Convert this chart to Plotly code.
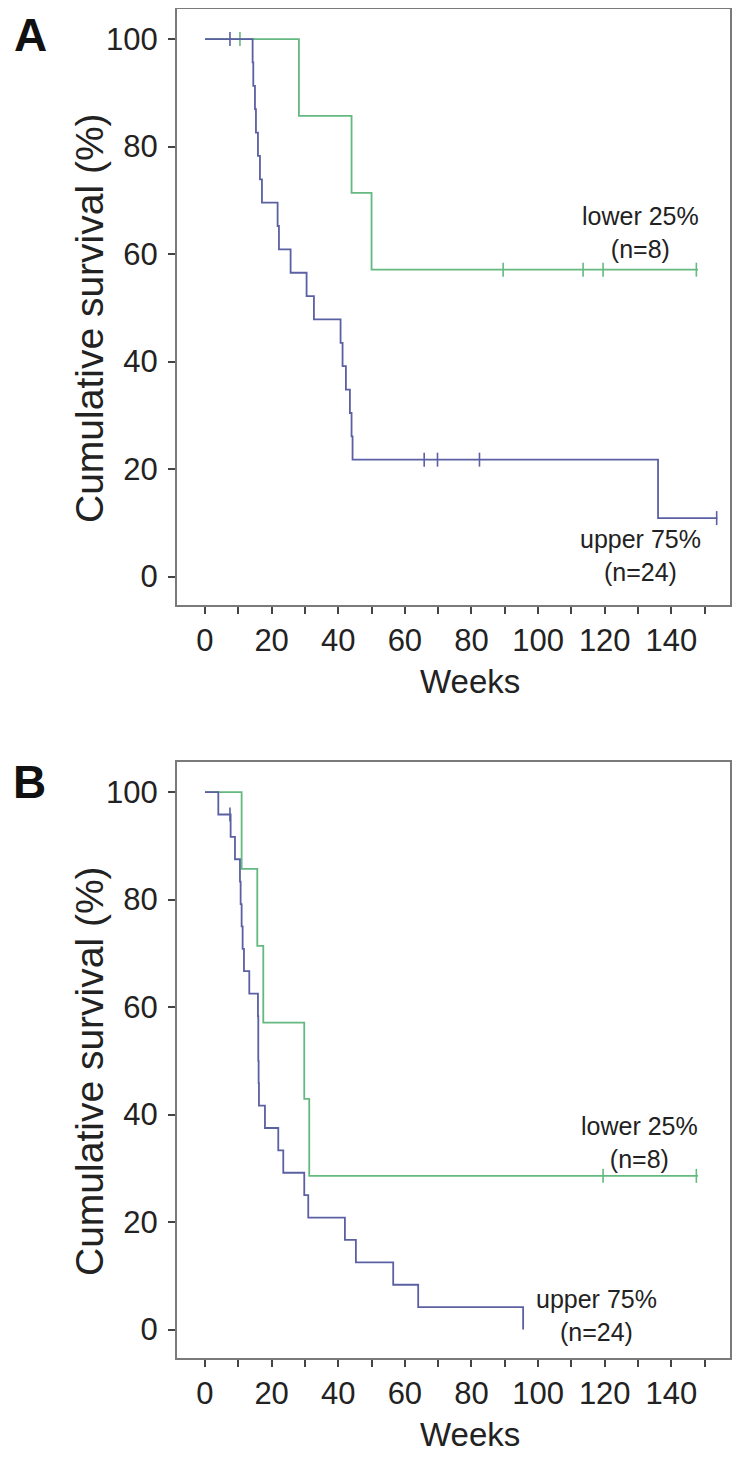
import plotly.graph_objects as go

# ---------------- data ----------------
# Panel A
a_low_times = [28.2, 44.0, 50.0]
a_low_surv = [85.7, 71.4, 57.1]
a_low_end = 148.0
a_low_censor = [10.5, 89.5, 113.5, 119.5, 147.5]

a_up_times = [14.3, 14.5, 15.0, 15.3, 15.9, 16.5, 17.1, 21.8, 22.2, 25.7, 30.5,
              32.7, 40.7, 41.3, 42.3, 43.5, 44.0, 44.3, 136.0]
a_up_surv = [95.65, 91.30, 86.96, 82.61, 78.26, 73.91, 69.57, 65.22, 60.87, 56.52,
             52.17, 47.83, 43.48, 39.13, 34.78, 30.43, 26.09, 21.74, 10.87]
a_up_end = 153.8
a_up_censor = [7.5, 65.8, 69.8, 82.4, 153.6]

# Panel B
b_low_times = [11.0, 15.7, 17.5, 29.8, 31.3]
b_low_surv = [85.7, 71.4, 57.1, 42.9, 28.6]
b_low_end = 148.0
b_low_censor = [119.5, 147.5]

b_up_times = [4.0, 7.7, 9.0, 10.5, 10.7, 11.0, 11.3, 11.7, 13.3, 15.9, 16.0, 16.0,
              16.1, 16.2, 18.0, 22.0, 23.5, 29.8, 31.0, 42.0, 45.3, 56.5, 64.0, 95.5]
b_up_surv = [95.83, 91.67, 87.5, 83.33, 79.17, 75.0, 70.83, 66.67, 62.5, 58.33, 54.17,
             50.0, 45.83, 41.67, 37.5, 33.33, 29.17, 25.0, 20.83, 16.67, 12.5, 8.33,
             4.17, 0.0]
b_up_end = 95.5
b_up_censor = [7.5]

x_tickvals = list(range(0, 151, 10))
x_ticktext = [str(v) if v % 20 == 0 and v <= 140 else "" for v in x_tickvals]
y_tickvals = [0, 20, 40, 60, 80, 100]

group_labels_a = [(130.8, 64.0, "lower 25%<br>(n=8)"), (130.8, 3.9, "upper 75%<br>(n=24)")]
group_labels_b = [(130.5, 34.8, "lower 25%<br>(n=8)"), (117.6, 2.7, "upper 75%<br>(n=24)")]

GREEN = "#63b97f"
BLUE = "#5b60a3"
PAD = 8                     # page body margin of the html page
W, H = 740 - PAD, 1458 - PAD
FONT = "Liberation Sans, Arial, sans-serif"


def PX(px):
    return (px - PAD) / W


def PY(py):
    return 1 - (py - PAD) / H


def step_xy(times, surv, end):
    xs = [0.0] + list(times) + [end]
    ys = [100.0] + list(surv) + [surv[-1]]
    return xs, ys


def level_at(times, surv, t):
    lvl = 100.0
    for tt, ss in zip(times, surv):
        if tt <= t:
            lvl = ss
    return lvl


fig = go.Figure()


def add_curve(times, surv, end, censor, color, xa, ya):
    xs, ys = step_xy(times, surv, end)
    fig.add_trace(go.Scatter(x=xs, y=ys, mode="lines", line=dict(color=color, width=1.8, shape="hv"),
                             xaxis=xa, yaxis=ya, showlegend=False, hoverinfo="skip"))
    cy = [level_at(times, surv, c) for c in censor]
    fig.add_trace(go.Scatter(x=censor, y=cy, mode="markers",
                             marker=dict(symbol="line-ns", size=10, line=dict(color=color, width=1.6)),
                             xaxis=xa, yaxis=ya, showlegend=False, hoverinfo="skip"))


add_curve(a_low_times, a_low_surv, a_low_end, a_low_censor, GREEN, "x", "y")
add_curve(a_up_times, a_up_surv, a_up_end, a_up_censor, BLUE, "x", "y")
add_curve(b_low_times, b_low_surv, b_low_end, b_low_censor, GREEN, "x2", "y2")
add_curve(b_up_times, b_up_surv, b_up_end, b_up_censor, BLUE, "x2", "y2")

x_left, x_right = 177, 730
a_top, a_bot = 9, 605
off = 753
b_top, b_bot = a_top + off, a_bot + off

axis_common = dict(showline=True, mirror=True, linecolor="#7a7a7a", linewidth=2,
                   ticks="outside", ticklen=7, tickwidth=2, tickcolor="#444",
                   showgrid=False, zeroline=False,
                   tickfont=dict(family=FONT, size=31, color="#222"))

xdom = [PX(x_left), PX(x_right)]
fig.update_layout(
    width=W, height=H, margin=dict(l=0, r=0, t=0, b=0),
    paper_bgcolor="white", plot_bgcolor="white",
    xaxis=dict(domain=xdom, range=[-8.4, 157.6], tickvals=x_tickvals, ticktext=x_ticktext,
               anchor="y", **axis_common),
    yaxis=dict(domain=[PY(a_bot), PY(a_top)], range=[-5.3, 105.6], tickvals=y_tickvals,
               anchor="x", ticklabelstandoff=4, **axis_common),
    xaxis2=dict(domain=xdom, range=[-8.4, 157.6], tickvals=x_tickvals, ticktext=x_ticktext,
                anchor="y2", **axis_common),
    yaxis2=dict(domain=[PY(b_bot), PY(b_top)], range=[-5.3, 105.6], tickvals=y_tickvals,
                anchor="x2", ticklabelstandoff=4, **axis_common),
)

ann = []
for k, dy in enumerate([0, off]):
    ann.append(dict(text="Cumulative survival (%)", xref="paper", yref="paper",
                    x=PX(89), y=PY(318 + dy), textangle=-90, showarrow=False,
                    font=dict(family=FONT, size=39, color="#222"), xanchor="center", yanchor="middle"))
    ann.append(dict(text="Weeks", xref="paper", yref="paper", x=PX(470), y=PY(681 + dy),
                    showarrow=False, font=dict(family=FONT, size=33, color="#222"),
                    xanchor="center", yanchor="middle"))

# panel letters
ann.append(dict(text="<b>A</b>", xref="paper", yref="paper", x=PX(30), y=1.0, showarrow=False,
                borderpad=0, font=dict(family=FONT, size=46, color="#111"),
                xanchor="center", yanchor="top"))
ann.append(dict(text="<b>B</b>", xref="paper", yref="paper", x=PX(29), y=PY(782), showarrow=False,
                font=dict(family=FONT, size=46, color="#111"), xanchor="center", yanchor="middle"))

for (xa, ya), group in [(("x", "y"), group_labels_a), (("x2", "y2"), group_labels_b)]:
    for xv, yv, t in group:
        ann.append(dict(text=t, xref=xa, yref=ya, x=xv, y=yv, showarrow=False, align="center",
                        font=dict(family=FONT, size=25, color="#222"),
                        xanchor="center", yanchor="middle"))

fig.update_layout(annotations=ann)
fig.write_html("out.html")
